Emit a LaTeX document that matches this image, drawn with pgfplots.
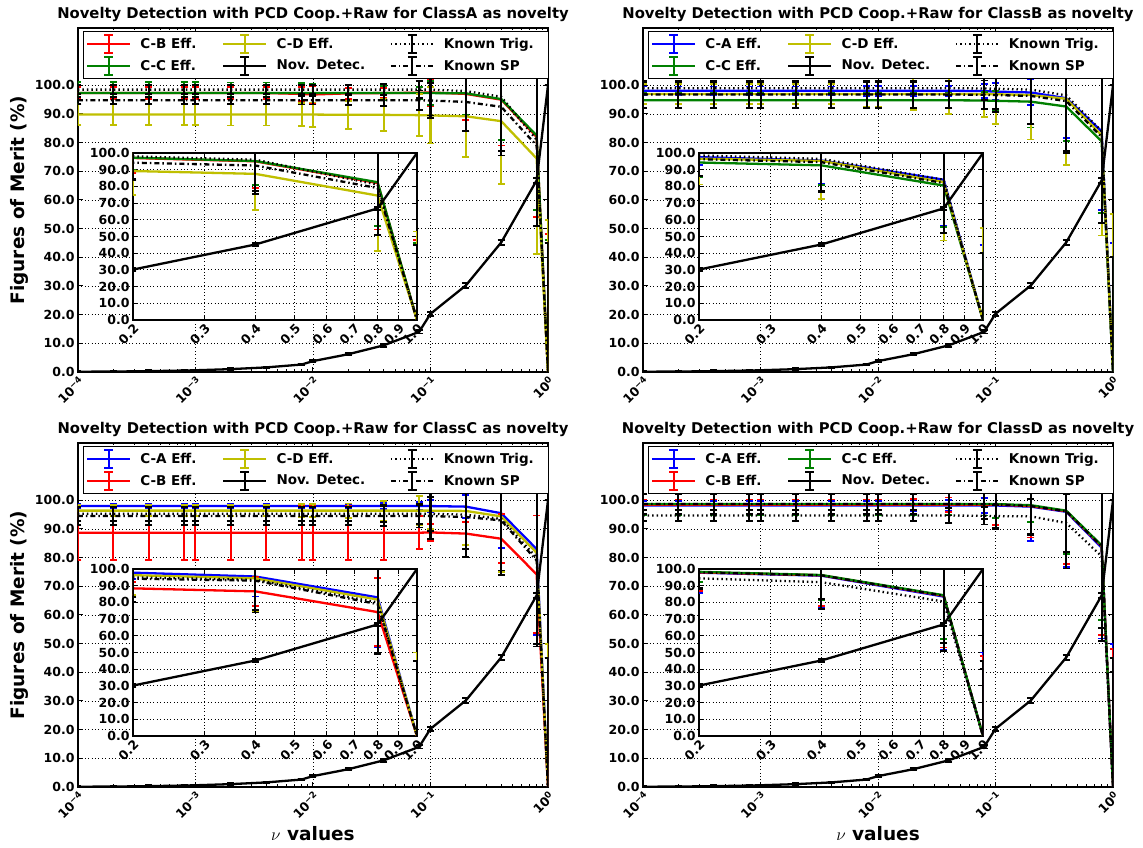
\documentclass[border=0pt]{standalone}
\usepackage{fontspec}
\setmainfont{DejaVu Sans}
\usepackage{pgfplots}
\usepackage{pgfplotstable}
\pgfplotsset{compat=1.18}

\definecolor{mplr}{rgb}{1,0,0}
\definecolor{mplg}{rgb}{0,0.5,0}
\definecolor{mplb}{rgb}{0,0,1}
\definecolor{mply}{rgb}{0.75,0.75,0}
\newcommand{\lgf}{\fontsize{13.5}{15}\selectfont\bfseries}

\pgfplotstableread{
x s1 e1 s2 e2 s3 e3 nd nde kt kte ks kse
1e-4 97.3 2.2 97.3 3.9 89.8 3.6 0.10 0.3 98.5 1.5 94.8 1.2
2e-4 97.3 2.2 97.3 3.9 89.8 3.6 0.15 0.3 98.5 1.5 94.8 1.2
4e-4 97.3 2.2 97.3 3.9 89.8 3.6 0.30 0.3 98.5 1.5 94.8 1.2
8e-4 97.3 2.2 97.3 3.9 89.8 3.6 0.50 0.3 98.5 1.5 94.8 1.2
1e-3 97.3 2.2 97.3 3.9 89.8 3.6 0.60 0.3 98.5 1.5 94.8 1.2
2e-3 97.3 2.2 97.3 3.7 89.8 3.8 1.00 0.3 98.5 1.5 94.8 1.2
4e-3 97.3 2.2 97.3 3.7 89.8 3.8 1.60 0.3 98.5 1.5 94.8 1.2
8e-3 97.0 2.5 97.3 3.5 89.8 4.0 2.60 0.3 98.5 1.5 94.8 1.5
1e-2 96.8 3.0 97.3 3.3 89.8 4.2 3.80 0.3 98.5 1.5 94.8 1.5
2e-2 97.2 2.0 97.3 2.8 89.7 4.8 6.20 0.4 98.5 1.5 94.8 1.8
4e-2 97.3 1.8 97.3 2.5 89.7 5.6 9.30 0.5 98.5 2.0 94.8 2.0
8e-2 97.4 2.0 97.3 2.0 89.6 7.3 14.0 0.6 98.5 3.0 94.8 3.4
1e-1 97.5 4.7 97.3 4.2 89.5 9.8 20.3 0.7 98.5 9.0 94.7 6.0
2e-1 97.0 9.0 97.2 7.6 89.2 14.2 30.2 0.8 98.0 14.0 94.2 10.0
4e-1 95.0 16.0 95.2 14.2 87.5 21.8 45.2 0.8 96.0 19.0 92.5 17.0
8e-1 82.0 27.8 82.5 26.0 74.5 33.3 66.8 1.0 81.0 30.0 79.0 28.0
1 0.0 48.0 0.0 46.0 0.0 53.0 100.0 0.0 0.0 45.0 0.0 45.0
}\tabA

\pgfplotstableread{
x s1 e1 s2 e2 s3 e3 nd nde kt kte ks kse
1e-4 98.1 1.5 94.8 2.7 97.0 3.5 0.10 0.3 99.0 2.0 96.8 4.6
2e-4 98.1 1.5 94.8 2.7 97.0 3.5 0.15 0.3 99.0 2.0 96.8 4.6
4e-4 98.1 1.5 94.8 2.7 97.0 3.5 0.30 0.3 99.0 2.0 96.8 4.6
8e-4 98.1 1.5 94.8 2.7 97.0 3.5 0.50 0.3 99.0 2.0 96.8 4.6
1e-3 98.1 1.5 94.8 2.7 97.0 3.5 0.60 0.3 99.0 2.0 96.8 4.6
2e-3 98.1 1.5 94.8 2.7 97.0 3.5 1.00 0.3 99.0 2.0 96.8 4.6
4e-3 98.1 1.5 94.8 2.7 97.0 3.5 1.60 0.3 99.0 2.0 96.8 4.6
8e-3 98.1 1.8 94.8 2.7 97.0 4.5 2.60 0.3 99.0 2.0 96.8 4.6
1e-2 98.1 1.8 94.8 2.7 97.0 4.5 3.80 0.3 99.0 2.0 96.8 4.6
2e-2 98.1 1.8 94.8 2.7 97.0 5.7 6.20 0.4 99.0 2.0 96.8 4.6
4e-2 98.1 1.8 94.8 2.7 97.0 7.0 9.30 0.5 99.0 2.5 96.8 4.6
8e-2 98.0 2.5 94.7 3.0 96.9 8.0 14.0 0.6 98.9 4.0 96.7 5.0
1e-1 97.8 3.0 94.6 3.5 96.9 10.5 20.3 0.7 98.8 7.0 96.6 6.0
2e-1 97.5 4.5 94.3 9.0 96.6 15.5 30.2 0.8 98.5 12.0 96.3 10.0
4e-1 95.5 14.0 92.6 12.0 95.3 23.0 45.2 0.8 96.5 20.0 94.5 17.5
8e-1 84.0 27.4 80.5 25.0 82.6 35.0 66.8 1.0 84.0 32.0 82.0 30.0
1 0.0 45.0 0.0 40.0 0.0 55.0 100.0 0.0 0.0 40.0 0.0 40.0
}\tabB

\pgfplotstableread{
x s1 e1 s2 e2 s3 e3 nd nde kt kte ks kse
1e-4 98.0 0.8 88.7 9.5 96.4 2.0 0.10 0.3 95.3 2.5 94.5 3.2
2e-4 98.0 0.8 88.7 9.5 96.4 2.0 0.15 0.3 95.3 2.5 94.5 3.2
4e-4 98.0 0.8 88.7 9.5 96.4 2.0 0.30 0.3 95.3 2.5 94.5 3.2
8e-4 98.0 0.8 88.7 9.5 96.4 2.0 0.50 0.3 95.3 2.5 94.5 3.2
1e-3 98.0 0.8 88.7 9.5 96.4 2.0 0.60 0.3 95.3 2.5 94.5 3.2
2e-3 98.0 0.8 88.7 9.5 96.4 2.0 1.00 0.3 95.3 2.5 94.5 3.2
4e-3 98.0 0.8 88.7 9.5 96.4 2.0 1.60 0.3 95.3 2.5 94.5 3.2
8e-3 98.0 0.8 88.7 9.5 96.4 2.2 2.60 0.3 95.3 2.5 94.5 3.2
1e-2 98.0 0.8 88.7 9.5 96.4 2.2 3.80 0.3 95.3 2.5 94.5 3.2
2e-2 98.0 0.8 88.7 9.5 96.4 2.5 6.20 0.4 95.3 2.5 94.5 3.2
4e-2 98.0 1.0 88.7 9.5 96.4 3.5 9.30 0.5 95.3 3.0 94.5 3.5
8e-2 98.0 1.5 88.7 5.8 96.4 5.0 14.0 0.6 95.3 3.5 94.5 4.0
1e-1 98.0 2.0 88.8 3.0 96.4 6.5 20.3 0.7 95.3 6.0 94.5 8.0
2e-1 97.8 4.0 88.4 4.0 96.3 12.0 30.2 0.8 95.0 12.0 94.2 14.0
4e-1 95.5 12.0 86.6 8.6 94.4 19.4 45.2 0.8 93.5 18.0 93.0 19.0
8e-1 83.0 30.0 74.2 20.5 81.7 31.7 66.8 1.0 80.0 30.0 79.0 30.0
1 0.0 45.0 0.0 50.0 0.0 50.0 100.0 0.0 0.0 45.0 0.0 45.0
}\tabC

\pgfplotstableread{
x s1 e1 s2 e2 s3 e3 nd nde kt kte ks kse
1e-4 98.2 1.5 98.5 1.8 98.7 3.7 0.10 0.3 94.7 2.0 98.7 3.6
2e-4 98.2 1.5 98.5 1.8 98.7 3.7 0.15 0.3 94.7 2.0 98.7 3.6
4e-4 98.2 1.5 98.5 1.8 98.7 3.7 0.30 0.3 94.7 2.0 98.7 3.6
8e-4 98.2 1.5 98.5 1.8 98.7 3.7 0.50 0.3 94.7 2.0 98.7 3.6
1e-3 98.2 1.5 98.5 1.8 98.7 3.7 0.60 0.3 94.7 2.0 98.7 3.6
2e-3 98.2 1.5 98.5 1.8 98.7 3.7 1.00 0.3 94.7 2.0 98.7 3.6
4e-3 98.2 1.5 98.5 1.8 98.7 3.7 1.60 0.3 94.7 2.0 98.7 3.6
8e-3 98.2 1.5 98.5 1.8 98.7 3.7 2.60 0.3 94.7 2.0 98.7 3.6
1e-2 98.2 1.5 98.5 1.8 98.7 3.7 3.80 0.3 94.7 2.0 98.7 3.6
2e-2 98.2 1.8 98.5 2.0 98.7 3.7 6.20 0.4 94.7 2.0 98.7 3.6
4e-2 98.2 2.0 98.5 2.5 98.7 3.7 9.30 0.5 94.7 2.5 98.7 4.0
8e-2 98.2 2.5 98.5 5.0 98.7 4.0 14.0 0.6 94.6 3.0 98.6 5.0
1e-1 98.2 8.0 98.5 7.0 98.7 5.0 20.3 0.7 94.5 4.0 98.6 8.5
2e-1 97.8 12.0 98.0 11.0 98.3 6.0 30.2 0.8 94.4 6.0 98.0 10.0
4e-1 96.0 19.3 96.2 18.3 96.4 15.0 45.2 0.8 92.1 10.0 96.2 20.0
8e-1 83.5 31.7 84.0 31.0 84.3 26.0 66.8 1.0 80.5 25.0 84.0 33.0
1 0.0 50.0 0.0 48.0 0.0 45.0 100.0 0.0 0.0 40.0 0.0 45.0
}\tabD

\pgfplotsset{
  myebar/.style={line width=2.3pt, mark=none, forget plot,
    error bars/.cd, y dir=both, y explicit,
    error bar style={line width=2pt, solid},
    error mark options={rotate=90, mark size=3.5pt, line width=1.8pt, solid}},
  myktsty/.style={dash pattern=on 1.5pt off 3pt},
  mykssty/.style={dash pattern=on 5pt off 3pt on 1.5pt off 3pt},
  myCommon/.style={
    scale only axis, tick align=inside,
    axis line style={line width=1.2pt},
    every tick/.style={black, line width=1pt},
    major tick length=5pt, minor tick length=2.5pt,
    grid=major,
    major grid style={black, line width=0.8pt, dash pattern=on 0.8pt off 2.6pt},
    tick label style={font=\fontsize{12.5}{14}\selectfont\bfseries},
    ymin=0, ytick={0,10,20,30,40,50,60,70,80,90,100},
    yticklabels={0.0,10.0,20.0,30.0,40.0,50.0,60.0,70.0,80.0,90.0,100.0},
    xticklabel style={rotate=45, anchor=north east, inner sep=2pt},
    anchor=south west,
  },
  myMain/.style={myCommon, width=470pt, height=344pt,
    xmin=1e-4, xmax=1, ymax=120,
    xtick={1e-4,1e-3,1e-2,1e-1,1},
    xticklabels={10\textsuperscript{−4},10\textsuperscript{−3},10\textsuperscript{−2},10\textsuperscript{−1},10\textsuperscript{0}},
    title style={font=\fontsize{14.8}{16}\selectfont\bfseries, yshift=-3.5pt},
    label style={font=\fontsize{18.5}{20}\selectfont\bfseries},
    legend columns=3, legend cell align=left,
    legend image code/.code={%
      \draw[##1] (0pt,0pt) -- (43pt,0pt);
      \draw[##1,solid,line width=1.8pt] (21.5pt,-9pt) -- (21.5pt,9pt)
         (17pt,-9pt) -- (26pt,-9pt) (17pt,9pt) -- (26pt,9pt);
    },
    legend style={at={(0.0096,0.991)}, anchor=north west, draw=black, line width=1pt,
      inner xsep=3pt, inner ysep=2.5pt, row sep=2pt,
      nodes={inner sep=0pt},
      font=\lgf,
      /tikz/every odd column/.append style={column sep=9pt},
      /tikz/every even column/.append style={column sep=0pt}},
  },
  myInset/.style={myCommon, width=284pt, height=167pt,
    xmin=0.2, xmax=1, ymax=100,
    xtick={0.2,0.3,0.4,0.5,0.6,0.7,0.8,0.9,1.0},
    xticklabels={0.2,0.3,0.4,0.5,0.6,0.7,0.8,0.9,1.0},
    axis background/.style={fill=white},
  },
}

\newcommand{\drawall}[4]{%
  \addplot[#2, myebar] table[x=x,y=s1,y error=e1]{#1};
  \addplot[#3, myebar] table[x=x,y=s2,y error=e2]{#1};
  \addplot[#4, myebar] table[x=x,y=s3,y error=e3]{#1};
  \addplot[black, myebar] table[x=x,y=nd,y error=nde]{#1};
  \addplot[black, myktsty, myebar] table[x=x,y=kt,y error=kte]{#1};
  \addplot[black, mykssty, myebar] table[x=x,y=ks,y error=kse]{#1};
}
\newcommand{\legs}[6]{%
  \addlegendimage{#1, line width=2.3pt}\addlegendentry{\makebox[82pt][l]{\lgf #2}}
  \addlegendimage{#3, line width=2.3pt}\addlegendentry{\makebox[113pt][l]{\lgf #4}}
  \addlegendimage{black, myktsty, line width=2.3pt}\addlegendentry{\makebox[102pt][l]{\lgf Known Trig.}}
  \addlegendimage{#5, line width=2.3pt}\addlegendentry{\makebox[82pt][l]{\lgf #6}}
  \addlegendimage{black, line width=2.3pt}\addlegendentry{\makebox[113pt][l]{\lgf Nov. Detec.}}
  \addlegendimage{black, mykssty, line width=2.3pt}\addlegendentry{\makebox[102pt][l]{\lgf Known SP}}
}

\begin{document}
\begin{tikzpicture}
\useasboundingbox (0,0) rectangle (1143pt,848pt);

% ---- A
\begin{semilogxaxis}[myMain, at={(78pt,476pt)},
  title={Novelty Detection with PCD Coop.+Raw for ClassA as novelty},
  ylabel={Figures of Merit (\%)}]
  \drawall{\tabA}{mplr}{mplg}{mply}
  \legs{mplr}{C-B Eff.}{mply}{C-D Eff.}{mplg}{C-C Eff.}
\end{semilogxaxis}
\begin{semilogxaxis}[myInset, at={(133pt,528pt)}]
  \drawall{\tabA}{mplr}{mplg}{mply}
\end{semilogxaxis}

% ---- B
\begin{semilogxaxis}[myMain, at={(643pt,476pt)},
  title={Novelty Detection with PCD Coop.+Raw for ClassB as novelty}]
  \drawall{\tabB}{mplb}{mplg}{mply}
  \legs{mplb}{C-A Eff.}{mply}{C-D Eff.}{mplg}{C-C Eff.}
\end{semilogxaxis}
\begin{semilogxaxis}[myInset, at={(699pt,528pt)}]
  \drawall{\tabB}{mplb}{mplg}{mply}
\end{semilogxaxis}

% ---- C
\begin{semilogxaxis}[myMain, at={(78pt,61pt)},
  title={Novelty Detection with PCD Coop.+Raw for ClassC as novelty},
  ylabel={Figures of Merit (\%)}, xlabel={$\nu$ values}]
  \drawall{\tabC}{mplb}{mplr}{mply}
  \legs{mplb}{C-A Eff.}{mply}{C-D Eff.}{mplr}{C-B Eff.}
\end{semilogxaxis}
\begin{semilogxaxis}[myInset, at={(133pt,112pt)}]
  \drawall{\tabC}{mplb}{mplr}{mply}
\end{semilogxaxis}

% ---- D
\begin{semilogxaxis}[myMain, at={(643pt,61pt)},
  title={Novelty Detection with PCD Coop.+Raw for ClassD as novelty},
  xlabel={$\nu$ values}]
  \drawall{\tabD}{mplb}{mplr}{mplg}
  \legs{mplb}{C-A Eff.}{mplg}{C-C Eff.}{mplr}{C-B Eff.}
\end{semilogxaxis}
\begin{semilogxaxis}[myInset, at={(699pt,112pt)}]
  \drawall{\tabD}{mplb}{mplr}{mplg}
\end{semilogxaxis}
\end{tikzpicture}
\end{document}
